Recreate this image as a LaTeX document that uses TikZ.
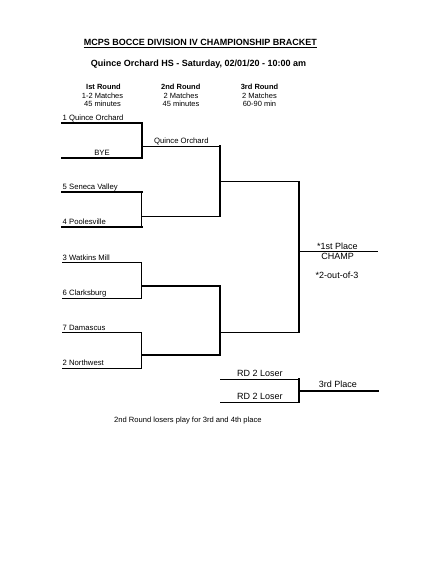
\documentclass[tikz,border=0pt]{standalone}
\usepackage{fontspec}
\setmainfont{Liberation Sans}
\begin{document}
\begin{tikzpicture}[x=1pt,y=-1pt,
  thn/.style={line width=1pt},
  thk/.style={line width=2pt, line cap=rect},
  ttl/.style={font=\fontsize{9}{11}\selectfont\bfseries, inner sep=0pt, anchor=base},
  hdr/.style={font=\fontsize{7.5}{9}\selectfont\bfseries, inner sep=0pt, anchor=base},
  sub/.style={font=\fontsize{7.5}{9}\selectfont, inner sep=0pt, anchor=base},
  lbl/.style={font=\fontsize{7.7}{9}\selectfont, inner sep=0pt, anchor=base west},
  big/.style={font=\fontsize{9}{11}\selectfont, inner sep=0pt, anchor=base},
  note/.style={font=\fontsize{7.6}{9}\selectfont, inner sep=0pt, anchor=base west}]
\useasboundingbox[fill=white] (0,0) rectangle (439,587);

% titles
\node[ttl] (title) at (200.3,45.7) {MCPS BOCCE DIVISION IV CHAMPIONSHIP BRACKET};
\draw[line width=0.9pt] ([yshift=-1.7pt]title.base west) -- ([yshift=-1.7pt]title.base east);
\node[ttl] (subtitle) at (198.5,66.5) {Quince Orchard HS - Saturday, 02/01/20 - 10:00 am};

% round headers
\node[hdr] (h1) at (103.5,89.3) {Ist Round};
\node[sub] (h1a) at (102.5,98.7) {1-2 Matches};
\node[sub] (h1b) at (102.5,106.7) {45 minutes};
\node[hdr] (h2) at (180.8,89.3) {2nd Round};
\node[sub] (h2a) at (181,98.7) {2 Matches};
\node[sub] (h2b) at (181,106.7) {45 minutes};
\node[hdr] (h3) at (259.5,89.3) {3rd Round};
\node[sub] (h3a) at (259.5,98.7) {2 Matches};
\node[sub] (h3b) at (259.5,106.7) {60-90 min};

% first round coordinates
\coordinate (t1) at (62,122.7);  \coordinate (t1r) at (141.5,122.7);
\coordinate (t2) at (62,158);    \coordinate (t2r) at (141.5,158);
\coordinate (t3) at (62,191.7);  \coordinate (t3r) at (141.5,191.7);
\coordinate (t4) at (62,227);    \coordinate (t4r) at (141.5,227);
\coordinate (t5) at (62,262.7);  \coordinate (t5r) at (141.5,262.7);
\coordinate (t6) at (62,298);    \coordinate (t6r) at (141.5,298);
\coordinate (t7) at (62,332.7);  \coordinate (t7r) at (141.5,332.7);
\coordinate (t8) at (62,368);    \coordinate (t8r) at (141.5,368);

% second round coordinates
\coordinate (m1) at (141.5,146);   \coordinate (m1r) at (220,146);
\coordinate (m2) at (141.5,216);   \coordinate (m2r) at (220,216);
\coordinate (m3) at (141.5,285.7); \coordinate (m3r) at (220,285.7);
\coordinate (m4) at (141.5,355);   \coordinate (m4r) at (220,355);

% third round coordinates
\coordinate (s1) at (220,181.7); \coordinate (s1r) at (299,181.7);
\coordinate (s2) at (220,332.3); \coordinate (s2r) at (299,332.3);
\coordinate (c1) at (299,251);   \coordinate (c1r) at (378,251);

% consolation coordinates
\coordinate (r1) at (220,379);   \coordinate (r1r) at (299,379);
\coordinate (r2) at (220,402.3); \coordinate (r2r) at (299,402.3);
\coordinate (q1) at (299,391);   \coordinate (q1r) at (378,391);

% pair 1
\draw[thk] (t1) -- (t1r) -- (t2r) -- (t2);
% pair 2
\draw[thk] (t3) -- (t3r);
\draw[thk] (t4) -- (t4r);
\draw[thn] (t3r) -- (t4r);
% pair 3
\draw[thn] (t5) -- (t5r) -- (t6r) -- (t6);
% pair 4
\draw[thn] (t7) -- (t7r) -- (t8r) -- (t8);

% second round
\draw[thn] (m1) -- (m1r);
\draw[thn] (m2) -- (m2r);
\draw[thk] (m1r) -- (m2r);
\draw[thk] (m3) -- (m3r) -- (m4r) -- (m4);

% third round
\draw[thn] (s1) -- (s1r);
\draw[thn] (s2) -- (s2r);
\draw[thk] (s1r) -- (s2r);
\draw[thn] (c1) -- (c1r);

% consolation
\draw[thn] (r1) -- (r1r);
\draw[thn] (r2) -- (r2r);
\draw[thk] (r1r) -- (r2r);
\draw[thk] (q1) -- (q1r);

% labels
\node[lbl] (n1) at (62.5,120.2) {1 Quince Orchard};
\node[lbl,anchor=base] (n2) at (102,155.5) {BYE};
\node[lbl] (n3) at (62.5,189.2) {5 Seneca Valley};
\node[lbl] (n4) at (62.5,224.5) {4 Poolesville};
\node[lbl] (n5) at (62.5,260.2) {3 Watkins Mill};
\node[lbl] (n6) at (62.5,295.5) {6 Clarksburg};
\node[lbl] (n7) at (62.5,330.2) {7 Damascus};
\node[lbl] (n8) at (62.5,365.5) {2 Northwest};
\node[lbl] (w1) at (154,143.5) {Quince Orchard};

\node[big] (champa) at (337.5,249) {*1st Place};
\node[big] (champb) at (337.7,259) {CHAMP};
\node[big] (champc) at (337,278.7) {*2-out-of-3};

\node[big] (l1) at (260,376.7) {RD 2 Loser};
\node[big] (l2) at (260,399.3) {RD 2 Loser};
\node[big] (third) at (338,387.7) {3rd Place};

\node[note] (foot) at (114,422) {2nd Round losers play for 3rd and 4th place};
\end{tikzpicture}
\end{document}
